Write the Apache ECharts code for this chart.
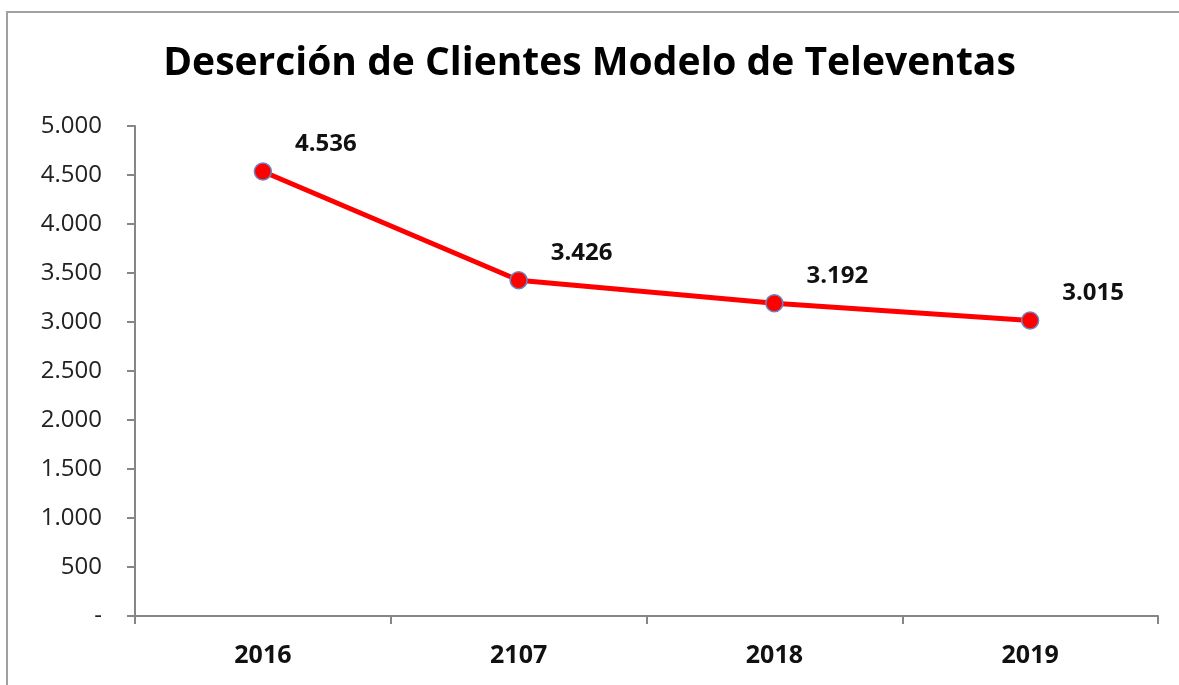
<!DOCTYPE html>
<html lang="es">
<head>
  <meta charset="UTF-8" />
  <title>Deserción de Clientes Modelo de Televentas</title>
  <script src="https://cdn.jsdelivr.net/npm/echarts@6/dist/echarts.min.js"></script>
  <style>
    body { margin: 0; padding: 0; background: #ffffff; overflow: hidden; }
    #main { width: 1179px; height: 685px; }
  </style>
</head>
<body>
  <div id="main"></div>
  <script>
    const years = ['2016', '2107', '2018', '2019'];
    const clientes = [4536, 3426, 3192, 3015];

    const fontFam = "'Open Sans', 'Noto Sans', sans-serif";

    // formato con punto de miles, cero como guion
    function fmtMiles(v) {
      if (v === 0) return '-';
      return String(v).replace(/\B(?=(\d{3})+(?!\d))/g, '.');
    }

    let chart = echarts.init(document.getElementById('main'));
    chart.setOption({
      backgroundColor: '#ffffff',
      animation: false,
      title: {
        text: 'Deserción de Clientes Modelo de Televentas',
        left: 'center',
        top: 39,
        textStyle: {
          fontFamily: fontFam,
          fontSize: 39,
          fontWeight: 'bold',
          color: '#000000'
        }
      },
      graphic: [{
        type: 'rect',
        shape: { x: 7, y: 12, width: 1240, height: 720 },
        style: { fill: 'none', stroke: '#a0a0a0', lineWidth: 2 },
        silent: true
      }],
      grid: { left: 135, right: 21, top: 126, bottom: 69, containLabel: false },
      xAxis: {
        type: 'category',
        data: years,
        boundaryGap: true,
        axisLine: { lineStyle: { color: '#868686', width: 2 } },
        axisTick: { show: true, length: 8, lineStyle: { color: '#868686', width: 2 } },
        axisLabel: {
          margin: 27,
          fontFamily: fontFam,
          fontSize: 25,
          fontWeight: 'bold',
          color: '#111111'
        },
        splitLine: { show: false }
      },
      yAxis: {
        type: 'value',
        min: 0,
        max: 5000,
        interval: 500,
        axisLine: { show: true, lineStyle: { color: '#868686', width: 2 } },
        axisTick: { show: true, length: 8, lineStyle: { color: '#868686', width: 2 } },
        splitLine: { show: false },
        axisLabel: {
          margin: 33,
          fontFamily: fontFam,
          fontSize: 24,
          color: '#222222',
          formatter: fmtMiles
        }
      },
      series: [{
        type: 'line',
        data: clientes,
        symbol: 'circle',
        symbolSize: 17,
        lineStyle: { color: '#ff0000', width: 5 },
        itemStyle: { color: '#ff0000', borderColor: '#6a86c0', borderWidth: 1.5 },
        label: {
          show: true,
          position: 'top',
          offset: [63, -1],
          fontFamily: fontFam,
          fontSize: 24,
          fontWeight: 'bold',
          color: '#111111',
          formatter: p => fmtMiles(p.value)
        },
        z: 3
      }]
    });
  </script>
</body>
</html>
